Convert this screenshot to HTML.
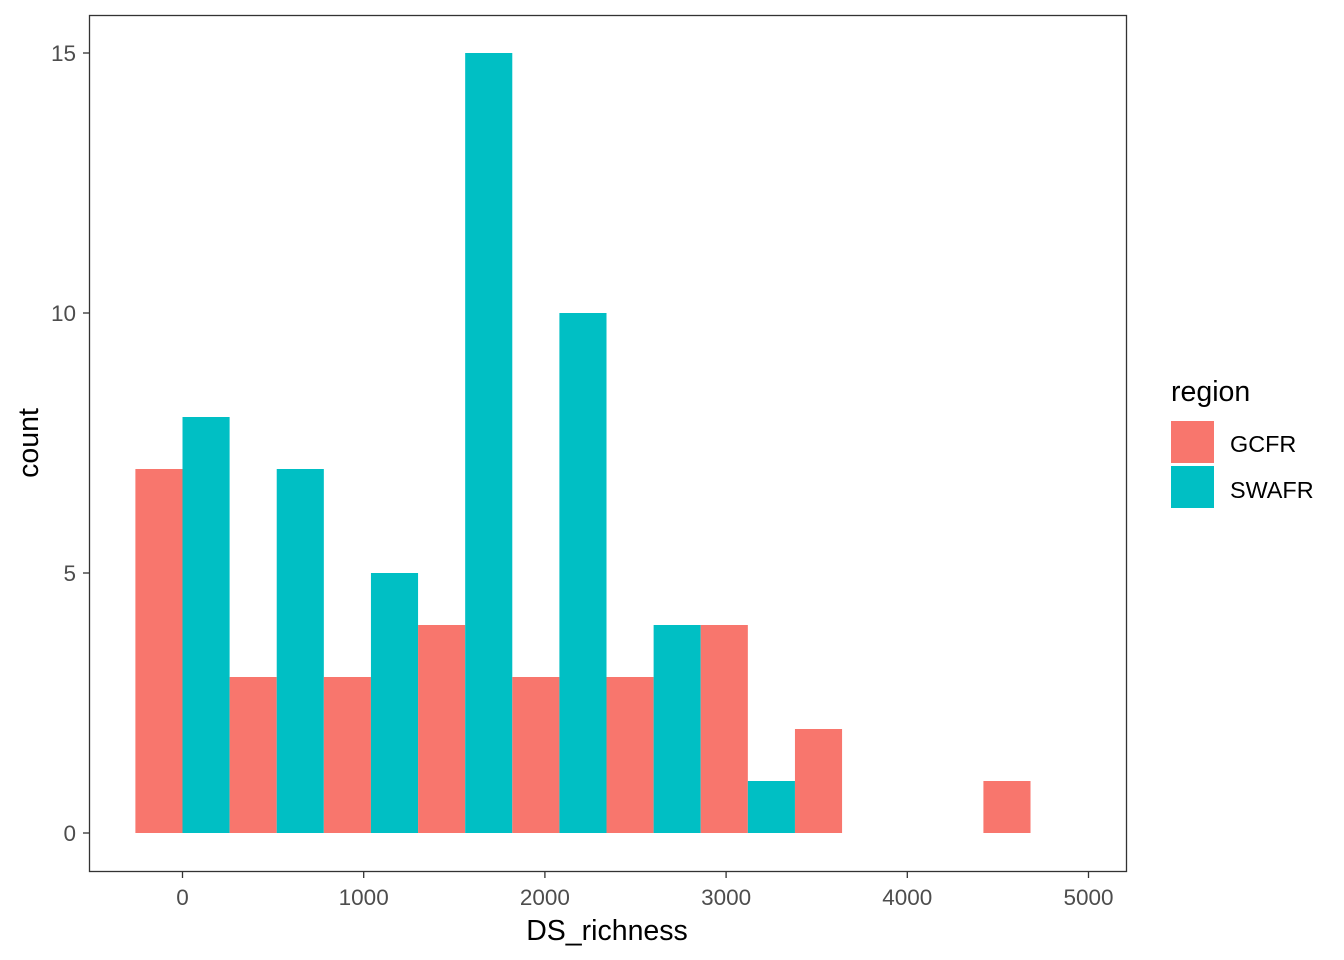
<!DOCTYPE html>
<html><head><meta charset="utf-8"><style>
body{margin:0;background:#fff;}
svg{display:block;font-family:"Liberation Sans",Arial,sans-serif;}
</style></head><body>
<svg id="chart" width="1344" height="960">
<rect x="0" y="0" width="1344" height="960" fill="#fff"/>
<g id="bars"></g>
<rect x="89.5" y="15.5" width="1037" height="856" fill="none" stroke="#333" stroke-width="1.3"/>
<g id="axes"></g>
<text x="607" y="940" font-size="28.5" text-anchor="middle" fill="#000">DS_richness</text>
<text transform="translate(38,443) rotate(-90)" font-size="28.5" text-anchor="middle" fill="#000">count</text>
<g>
<text x="1171" y="401" font-size="28.5" fill="#000">region</text>
<rect x="1171" y="421" width="43" height="42" fill="#F8766D"/>
<text x="1230" y="452" font-size="23.4" fill="#000">GCFR</text>
<rect x="1171" y="466" width="43" height="42" fill="#00BFC4"/>
<text x="1230" y="498" font-size="23.4" fill="#000">SWAFR</text>
</g>
</svg>
<script>
const binCenters=[0,520,1040,1560,2080,2600,3120,3640,4160,4680];
const gcfrCounts=[7,3,3,4,3,3,4,2,0,1];
const swafrCounts=[8,7,5,15,10,4,1,0,0,0];
const xTicks=[0,1000,2000,3000,4000,5000];
const yTicks=[0,5,10,15];
const binWidth=520;
const NS="http://www.w3.org/2000/svg";
function xs(v){return 182.5+v*0.1812;}
function ys(v){return 833-v*52;}
const bars=document.getElementById('bars');
const axes=document.getElementById('axes');
function mk(tag,attrs,parent){const e=document.createElementNS(NS,tag);for(const k in attrs)e.setAttribute(k,attrs[k]);parent.appendChild(e);return e;}
binCenters.forEach((c,i)=>{
  const l=xs(c-binWidth/2), m=xs(c), r=xs(c+binWidth/2);
  if(gcfrCounts[i]>0){const b=mk('rect',{x:l,y:ys(gcfrCounts[i]),width:m-l,height:ys(0)-ys(gcfrCounts[i]),fill:'#F8766D'},bars);
  
  }
  if(swafrCounts[i]>0){const b=mk('rect',{x:m,y:ys(swafrCounts[i]),width:r-m,height:ys(0)-ys(swafrCounts[i]),fill:'#00BFC4'},bars);
  
  }
});
xTicks.forEach(t=>{
  const x=xs(t);
  const l=mk('line',{x1:x,x2:x,y1:872,y2:878,stroke:'#333','stroke-width':1.3},axes);
  
  
  const tx=mk('text',{x:x,y:905,'font-size':22.5,'text-anchor':'middle',fill:'#4d4d4d'},axes);
  tx.textContent=t;
  
  
});
yTicks.forEach(t=>{
  const y=ys(t);
  const l=mk('line',{x1:83,x2:89,y1:y,y2:y,stroke:'#333','stroke-width':1.3},axes);
  
  
  const tx=mk('text',{x:76,y:y+8,'font-size':22.5,'text-anchor':'end',fill:'#4d4d4d'},axes);
  tx.textContent=t;
  
  
});
</script>
</body></html>
